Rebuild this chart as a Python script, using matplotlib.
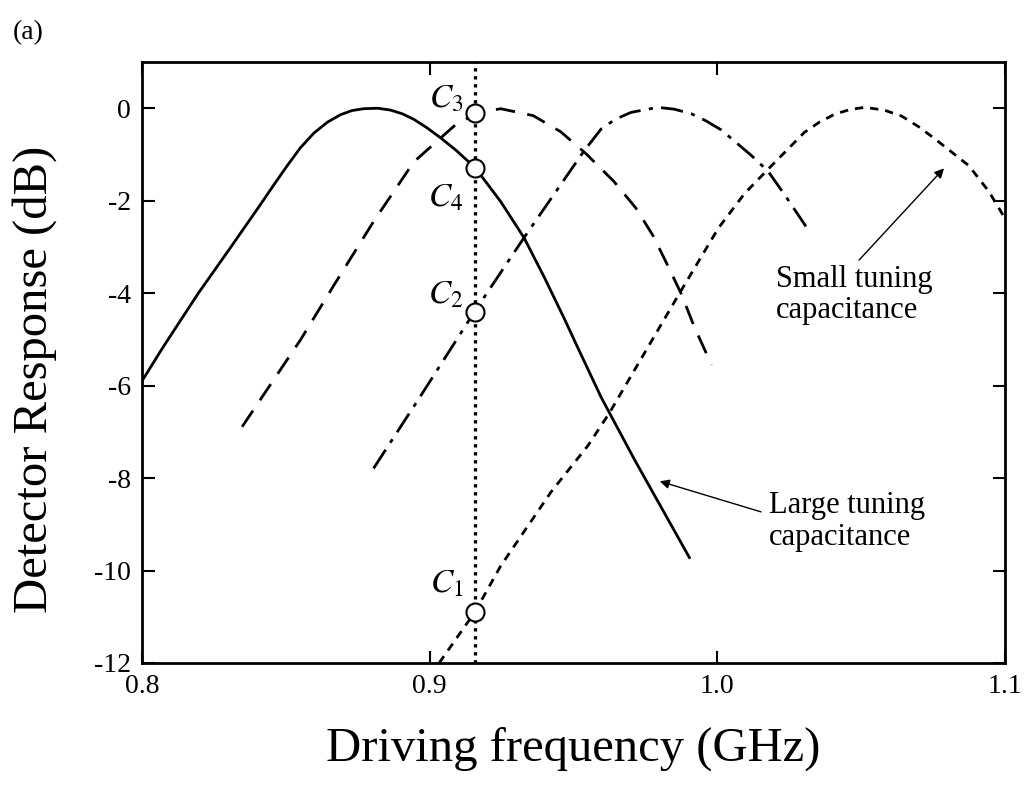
import matplotlib
matplotlib.use('Agg')
import matplotlib.pyplot as plt

plt.rcParams['font.family'] = ['Liberation Serif', 'DejaVu Serif']
plt.rcParams['mathtext.fontset'] = 'stix'
plt.rcParams['axes.unicode_minus'] = False

# Curves: frequency (GHz), response (dB)
solid_f = [0.800, 0.8074, 0.8196, 0.8307, 0.8411, 0.8458, 0.8504, 0.855, 0.8597, 0.8645,
           0.869, 0.873, 0.8771, 0.882, 0.8864, 0.8905, 0.8945, 0.899, 0.9038, 0.909,
           0.9143, 0.9178, 0.9247, 0.9328, 0.9398, 0.9468, 0.9509, 0.9596, 0.9712, 0.9903]
solid_db = [-5.9, -5.16, -4.0, -3.02, -2.09, -1.66, -1.25, -0.86, -0.54, -0.3,
            -0.14, -0.05, -0.01, 0.0, -0.04, -0.12, -0.24, -0.42, -0.64, -0.9,
            -1.2, -1.45, -2.02, -2.8, -3.65, -4.55, -5.1, -6.25, -7.6, -9.72]

dash_f = [0.8348, 0.8551, 0.8666, 0.8805, 0.8945, 0.9084, 0.9165, 0.9247, 0.936, 0.9456,
          0.9543, 0.964, 0.9717, 0.9777, 0.9829, 0.9875, 0.992, 0.998]
dash_db = [-6.89, -5.01, -3.84, -2.45, -1.16, -0.39, -0.1, -0.01, -0.16, -0.51,
           -0.98, -1.58, -2.16, -2.76, -3.42, -4.02, -4.73, -5.55]

dashdot_f = [0.8805, 0.8969, 0.9157, 0.9328, 0.9537, 0.9596, 0.9645, 0.97, 0.9793, 0.985,
             0.991, 0.996, 1.0014, 1.0118, 1.0176, 1.0234, 1.0315]
dashdot_db = [-7.79, -6.22, -4.39, -2.8, -0.92, -0.45, -0.24, -0.09, 0.02, -0.02,
              -0.12, -0.27, -0.47, -1.02, -1.36, -1.87, -2.62]

short_f = [0.9033, 0.9157, 0.9247, 0.9422, 0.955, 0.9624, 0.9864, 1.0003, 1.0094, 1.0178,
           1.0303, 1.0355, 1.0408, 1.046, 1.0512, 1.058, 1.0641, 1.070, 1.0756, 1.0874,
           1.0944, 1.1]
short_db = [-12.0, -10.9, -9.9, -8.3, -7.3, -6.6, -4.05, -2.6, -1.85, -1.31,
            -0.52, -0.3, -0.13, -0.03, 0.02, -0.04, -0.17, -0.4, -0.66, -1.24,
            -1.8, -2.38]

f_marker = 0.9157
c_db = [-10.9, -4.4, -0.1, -1.3]
c_names = ['$C_1$', '$C_2$', '$C_3$', '$C_4$']
c_label_db = [-10.3, -4.05, 0.2, -1.95]

xticks = [0.8, 0.9, 1.0, 1.1]
xticklabels = ['0.8', '0.9', '1.0', '1.1']
yticks = [0, -2, -4, -6, -8, -10, -12]

fig = plt.figure(figsize=(10.26, 7.86), dpi=100)
ax = fig.add_axes([0.1384, 0.1565, 0.8411, 0.7646])

ax.plot(solid_f, solid_db, '-', color='k', lw=2.0)
ax.plot(dash_f, dash_db, color='k', lw=2.0, dashes=(7, 4.5))
ax.plot(dashdot_f, dashdot_db, color='k', lw=2.0, dashes=(8, 3, 1.5, 3))
ax.plot(short_f, short_db, color='k', lw=2.0, dashes=(3, 2.5))
ax.axvline(f_marker, color='k', lw=2.4, dashes=(1, 1.4))
ax.plot([f_marker] * len(c_db), c_db, 'o', ms=13, mfc='white', mec='k', mew=1.5, zorder=5)

for name, yl in zip(c_names, c_label_db):
    ax.text(0.9118, yl, name, fontsize=24, ha='right', va='center')

ax.annotate('Small tuning\ncapacitance', xy=(1.0788, -1.3), xytext=(1.0205, -4.04),
            fontsize=22, ha='left', va='center', linespacing=1.1,
            arrowprops=dict(arrowstyle='-|>', color='k', lw=1.0, mutation_scale=14,
                            shrinkA=2, shrinkB=0, relpos=(0.5, 1.0)))
ax.annotate('Large tuning\ncapacitance', xy=(0.980, -8.07), xytext=(1.018, -8.94),
            fontsize=22, ha='left', va='center', linespacing=1.1,
            arrowprops=dict(arrowstyle='-|>', color='k', lw=1.0, mutation_scale=14,
                            shrinkA=4, shrinkB=0, relpos=(0.0, 0.62)))

ax.set_xlim(0.8, 1.1)
ax.set_ylim(-12, 1)
ax.set_xticks(xticks)
ax.set_xticklabels(xticklabels)
ax.set_yticks(yticks)
ax.tick_params(direction='in', length=9, width=1.5, labelsize=20, top=True, right=True, pad=8)
for s in ax.spines.values():
    s.set_linewidth(2.0)

ax.set_xlabel('Driving frequency (GHz)', fontsize=35, labelpad=20)
ax.set_ylabel('Detector Response (dB)', fontsize=35)
ax.yaxis.set_label_coords(-0.098, 0.4725)
fig.text(0.012, 0.975, '(a)', fontsize=20, ha='left', va='top')

fig.savefig('out.png', dpi=100)
